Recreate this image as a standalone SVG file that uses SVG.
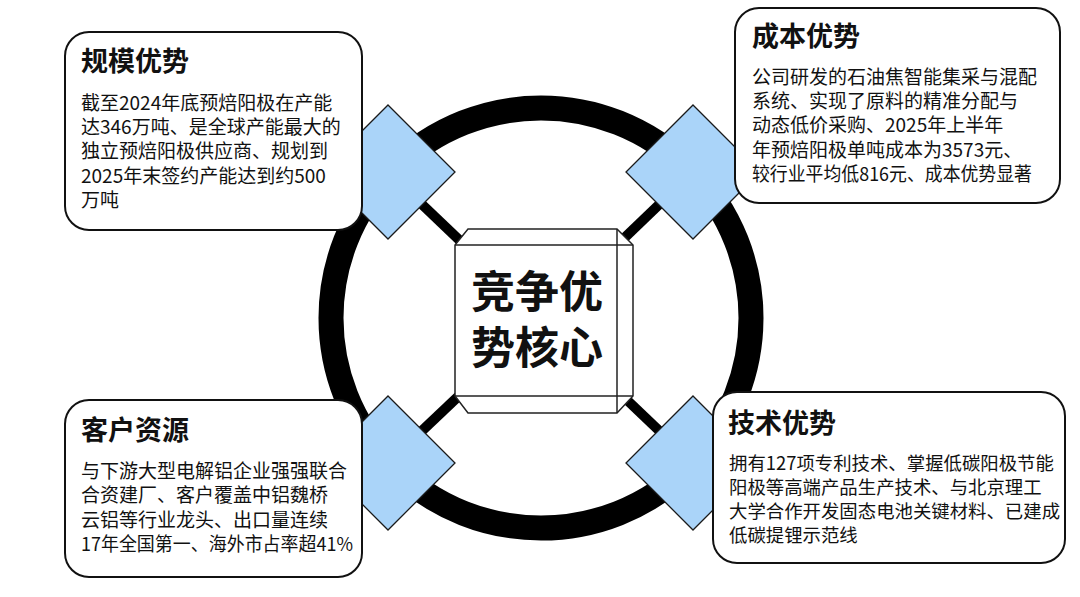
<svg xmlns="http://www.w3.org/2000/svg" width="1080" height="597" viewBox="0 0 1080 597">
<style>
.card{fill:#fff;stroke:#111;stroke-width:2}
.dia{fill:#aad4f9;stroke:#1a1a1a;stroke-width:1.3}
.t{font-family:"Noto Sans CJK SC","Noto Sans",sans-serif;font-weight:700;font-size:27px;fill:#111}
.b{font-family:"Noto Sans CJK SC","Noto Sans",sans-serif;font-size:19px;fill:#111}
.s{font-size:18.4px}
.c{font-family:"Noto Sans CJK SC","Noto Sans",sans-serif;font-weight:700;font-size:44px;fill:#111;text-anchor:middle}
.box{fill:#fff;stroke:#222;stroke-width:1.5}
</style>
<rect width="1080" height="597" fill="#fff"/>
<g id="connectors">
<circle cx="541" cy="318" r="210" fill="none" stroke="#000" stroke-width="25"/>
<g stroke="#000" stroke-width="10">
<line x1="388" y1="172" x2="541" y2="318"/>
<line x1="693" y1="172" x2="541" y2="318"/>
<line x1="388" y1="463" x2="541" y2="318"/>
<line x1="693" y1="463" x2="541" y2="318"/>
</g>
</g>
<g id="core">
<polygon class="box" points="468,229 617,229 633,245 633,396 617,413 468,413 455,396 455,245"/>
<g stroke="#222" stroke-width="1.5" fill="none">
<line x1="455" y1="245" x2="633" y2="245"/>
<line x1="455" y1="396" x2="633" y2="396"/>
<line x1="617" y1="229" x2="617" y2="413"/>
</g>
<text class="c" x="537" y="308">竞争优</text>
<text class="c" x="537" y="364">势核心</text>
</g>
<g id="diamonds">
<polygon id="d1" class="dia" points="388,105 455,172 388,239 321,172"/>
<polygon id="d2" class="dia" points="693,105 760,172 693,239 626,172"/>
<polygon id="d3" class="dia" points="388,396 455,463 388,530 321,463"/>
<polygon id="d4" class="dia" points="693,396 760,463 693,530 626,463"/>
</g>
<g id="scale">
<rect class="card" x="65" y="32" width="297" height="198" rx="24"/>
<text class="t" x="81" y="71">规模优势</text>
<text class="b" x="81" y="110">截至2024年底预焙阳极在产能</text>
<text class="b" x="81" y="134">达346万吨、是全球产能最大的</text>
<text class="b" x="81" y="158">独立预焙阳极供应商、规划到</text>
<text class="b" x="81" y="183">2025年末签约产能达到约500</text>
<text class="b" x="81" y="207">万吨</text>
</g>
<g id="cost">
<rect class="card" x="735" y="8" width="325" height="195" rx="24"/>
<text class="t" x="752" y="46">成本优势</text>
<text class="b" x="752" y="84">公司研发的石油焦智能集采与混配</text>
<text class="b" x="752" y="108">系统、实现了原料的精准分配与</text>
<text class="b" x="752" y="132">动态低价采购、2025年上半年</text>
<text class="b" x="752" y="157">年预焙阳极单吨成本为3573元、</text>
<text class="b" x="752" y="181" textLength="280" lengthAdjust="spacingAndGlyphs">较行业平均低816元、成本优势显著</text>
</g>
<g id="customer">
<rect class="card" x="65" y="400" width="297" height="177" rx="24"/>
<text class="t" x="81" y="440">客户资源</text>
<text class="b" x="81" y="478">与下游大型电解铝企业强强联合</text>
<text class="b" x="81" y="502">合资建厂、客户覆盖中铝魏桥</text>
<text class="b" x="81" y="527">云铝等行业龙头、出口量连续</text>
<text class="b" x="81" y="551" textLength="272" lengthAdjust="spacingAndGlyphs">17年全国第一、海外市占率超41%</text>
</g>
<g id="tech">
<rect class="card" x="713" y="392" width="352" height="171" rx="24"/>
<text class="t" x="728" y="433">技术优势</text>
<text class="b s" x="729" y="470">拥有127项专利技术、掌握低碳阳极节能</text>
<text class="b s" x="729" y="494">阳极等高端产品生产技术、与北京理工</text>
<text class="b s" x="729" y="518">大学合作开发固态电池关键材料、已建成</text>
<text class="b s" x="729" y="542">低碳提锂示范线</text>
</g>
</svg>
